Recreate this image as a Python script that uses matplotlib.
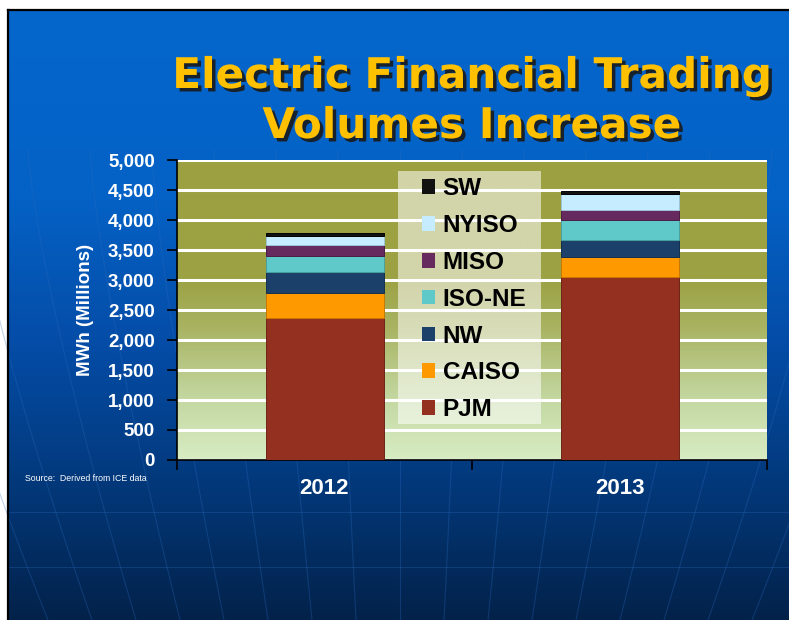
import numpy as np
import matplotlib
matplotlib.use('Agg')
import matplotlib.pyplot as plt
import matplotlib.patheffects as pe
from matplotlib.colors import LinearSegmentedColormap
from matplotlib.patches import Patch, Rectangle

# data (MWh, millions)
years = ['2012', '2013']
regions = ['PJM', 'CAISO', 'NW', 'ISO-NE', 'MISO', 'NYISO', 'SW']
pjm = [2372, 3045]
caiso = [416, 333]
nw = [350, 284]
isone = [267, 338]
miso = [173, 162]
nyiso = [155, 271]
sw = [45, 50]
series = [pjm, caiso, nw, isone, miso, nyiso, sw]
colors = ['#943020', '#ff9900', '#1b416b', '#5fc8c8', '#662a5e', '#c6ecff', '#111111']
edges = ['#6e2418', '#c77700', '#13304f', '#47a0a0', '#4a1e44', '#9cc4d8', '#000000']

yticks = np.arange(0, 5001, 500)

fig = plt.figure(figsize=(7.89, 6.2), dpi=100, facecolor='white')

# slide background
bg = fig.add_axes([0, 0, 1, 1], zorder=-10)
bg.set_axis_off()
blue = LinearSegmentedColormap.from_list('blue', [
    (0.0, '#0466cc'), (0.3, '#0562c6'), (0.55, '#044ca6'),
    (0.75, '#033b80'), (1.0, '#02224a')])
grad = np.linspace(0, 1, 256).reshape(-1, 1)
bg.imshow(grad, extent=(9, 789, 620, 11), cmap=blue, aspect='auto', origin='upper', zorder=0)
bg.plot([8, 8], [10, 620], color='black', lw=1.6, zorder=3)
bg.plot([8, 789], [10, 10], color='black', lw=1.6, zorder=3)

# faint globe lines
for k in range(-8, 9):
    yy = np.linspace(150, 620, 50)
    t = (yy - 150) / 470.0
    xx = 400 + k * (62 - 18 * t ** 1.3)
    bg.plot(xx, yy, color='#2b6cc0', lw=0.8, alpha=0.3, zorder=1)
for yh in [512, 567]:
    bg.plot([9, 789], [yh, yh], color='#2b6cc0', lw=0.8, alpha=0.3, zorder=1)
bg.set_xlim(0, 789)
bg.set_ylim(620, 0)

# title
title_fx = [pe.withSimplePatchShadow(offset=(2.5, -2.5), shadow_rgbFace='#1a1a1a', alpha=0.9)]
fig.text(472 / 789, 1 - 88 / 620, 'Electric Financial Trading', ha='center', va='baseline',
         fontsize=30.4, fontweight='bold', family='DejaVu Sans', color='#ffc000', path_effects=title_fx)
fig.text(472 / 789, 1 - 138 / 620, 'Volumes Increase', ha='center', va='baseline',
         fontsize=30.4, fontweight='bold', family='DejaVu Sans', color='#ffc000', path_effects=title_fx)

ax = fig.add_axes([177 / 789, 160 / 620, 590 / 789, 300 / 620])

# plot area gradient
olive = LinearSegmentedColormap.from_list('olive', [
    (0.0, '#d8ecc4'), (0.2, '#c4d8a2'), (0.45, '#a8b260'), (0.6, '#9ca244'), (1.0, '#9ca040')])
ax.imshow(grad, extent=(-0.5, 1.5, 0, 5000), cmap=olive, aspect='auto', origin='lower', zorder=0)

x = np.arange(len(years))
bottom = np.zeros(len(years))
for vals, c, ec in zip(series, colors, edges):
    ax.bar(x, vals, 0.4, bottom=bottom, color=c, edgecolor=ec, linewidth=0.7, zorder=3)
    bottom += np.array(vals)

ax.set_xlim(-0.5, 1.5)
ax.set_ylim(0, 5000)
ax.set_yticks(yticks)
ax.set_yticklabels([f'{v:,}' for v in yticks])
ax.set_axisbelow(True)
ax.yaxis.grid(True, color='white', lw=2.2)

ax.set_xticks(x)
ax.set_xticklabels(years)
ax.set_xticks([-0.5, 0.5, 1.5], minor=True)
ax.tick_params(axis='x', which='major', length=0, pad=13, labelsize=16, labelcolor='white')
ax.tick_params(axis='x', which='minor', length=7, width=1.2, color='black', direction='out')
ax.tick_params(axis='y', length=7, width=1.2, color='black', direction='out', pad=9,
               labelsize=13.5, labelcolor='white')
for lab in ax.get_xticklabels() + ax.get_yticklabels():
    lab.set_fontweight('bold')
    lab.set_family('Liberation Sans')

for s in ['top', 'right']:
    ax.spines[s].set_visible(False)
for s in ['left', 'bottom']:
    ax.spines[s].set_color('black')
    ax.spines[s].set_linewidth(1.2)

ax.set_ylabel('MWh (Millions)', color='white', fontsize=13.5, fontweight='bold',
              family='Liberation Sans', labelpad=10)

# legend with a translucent box under the gridlines
ax.add_patch(Rectangle((0.375, 0.12), 0.242, 0.843, transform=ax.transAxes,
                       facecolor='white', alpha=0.55, edgecolor='none', zorder=0.4))
handles = [Patch(facecolor=c, edgecolor='none', label=r) for r, c in zip(regions, colors)][::-1]
leg = ax.legend(handles=handles, loc='upper left', bbox_to_anchor=(0.415, 0.943), frameon=False,
                borderpad=0, borderaxespad=0, handlelength=0.55, handleheight=0.55,
                handletextpad=0.3, labelspacing=0.57,
                prop={'family': 'Liberation Sans', 'weight': 'bold', 'size': 17.5})

fig.text(25 / 789, 1 - 474 / 620, 'Source:  Derived from ICE data', color='white',
         fontsize=6.3, va='top', family='Liberation Sans')

fig.savefig('out.png', dpi=100)
